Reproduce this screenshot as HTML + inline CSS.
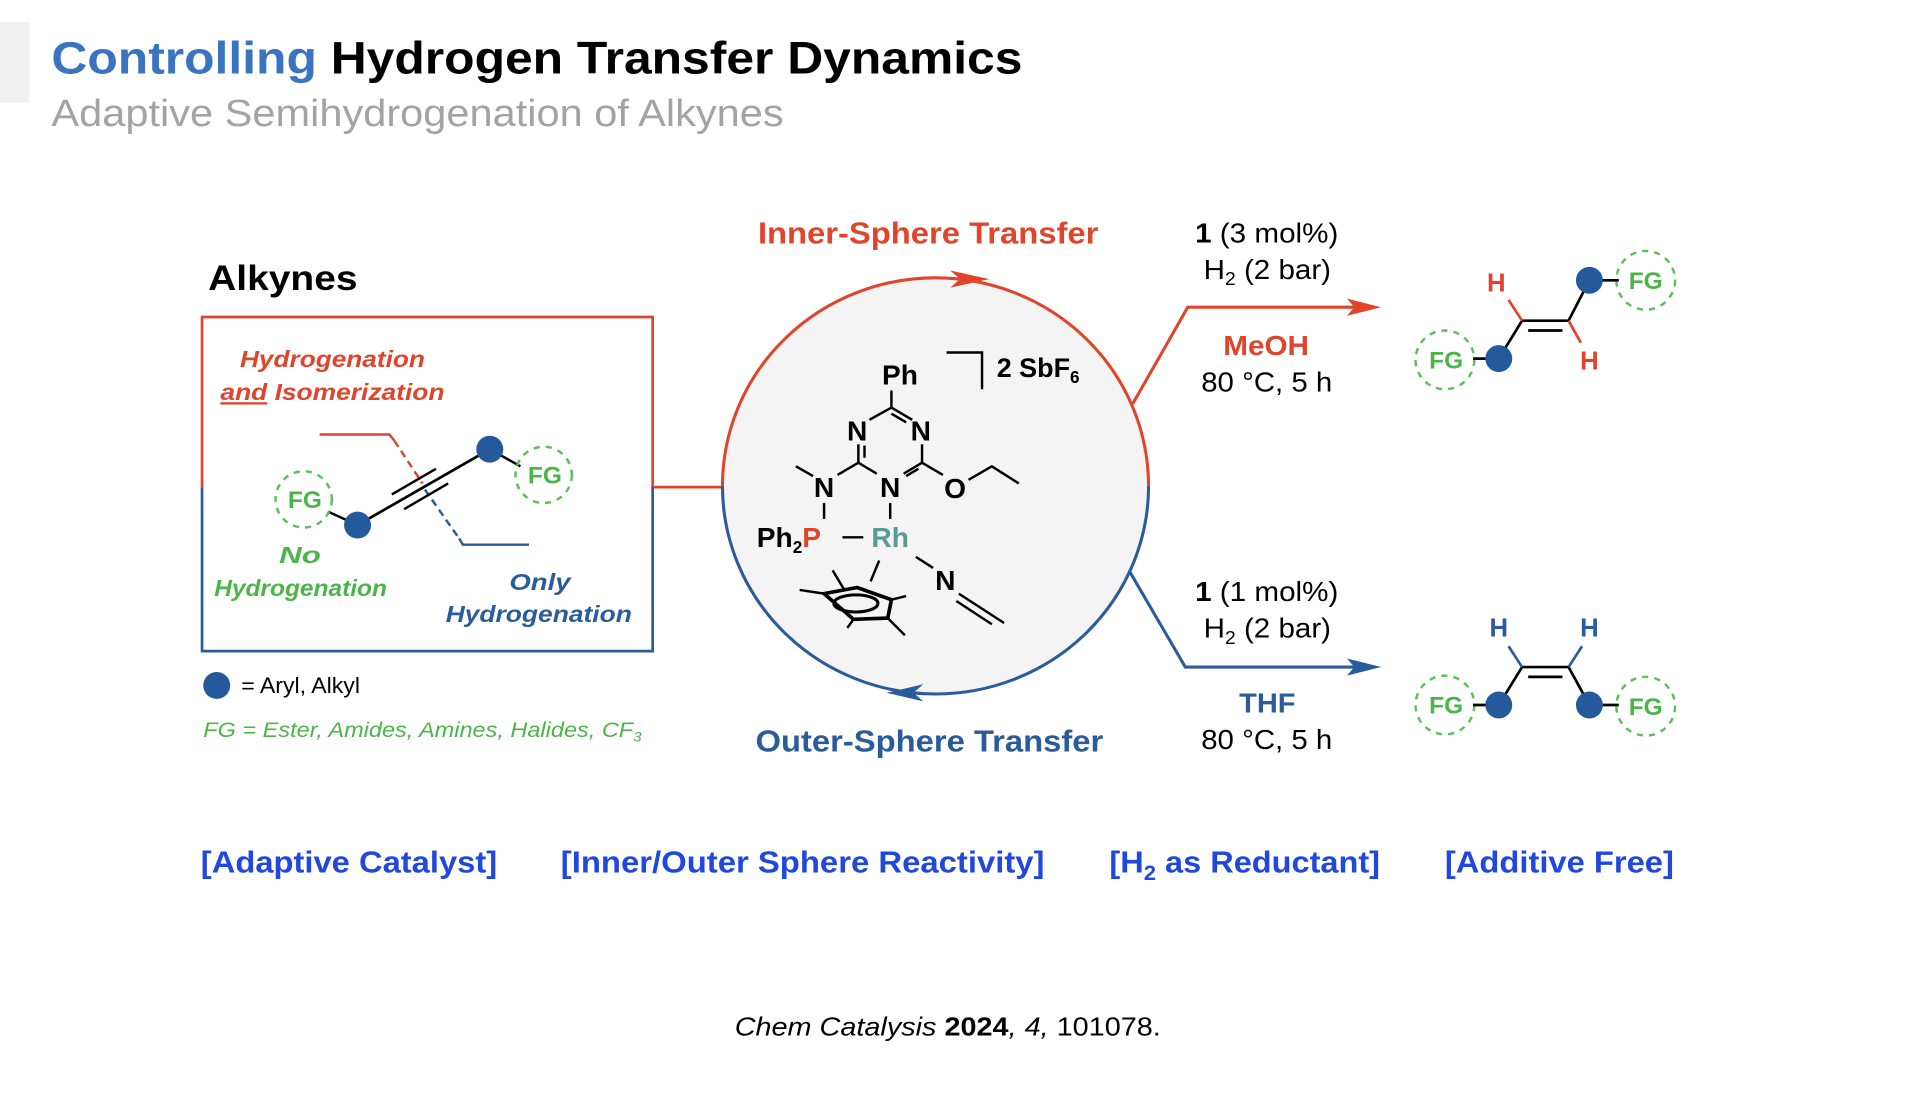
<!DOCTYPE html>
<html><head><meta charset="utf-8"><style>html,body{margin:0;padding:0;background:#fff;}svg{display:block;}text{font-family:"Liberation Sans",Arial,sans-serif;}</style></head>
<body>
<svg width="1920" height="1093" viewBox="0 0 1568 893" preserveAspectRatio="none" xmlns="http://www.w3.org/2000/svg">
<rect x="0" y="18" width="24" height="66" fill="#f0f0f0"/>
<text x="42" y="60" font-size="37" font-weight="bold" textLength="793" lengthAdjust="spacingAndGlyphs"><tspan fill="#3a73c0">Controlling</tspan><tspan fill="#000"> Hydrogen Transfer Dynamics</tspan></text>
<text x="42" y="103" font-size="31" fill="#a3a3a3" textLength="598" lengthAdjust="spacingAndGlyphs">Adaptive Semihydrogenation of Alkynes</text>

<text x="170" y="237" font-size="29" font-weight="bold" textLength="122" lengthAdjust="spacingAndGlyphs">Alkynes</text>
<path d="M165 398 V259 H533 V398 H592" fill="none" stroke="#e0442c" stroke-width="2.2"/>
<path d="M165 398 V532 H533 V398" fill="none" stroke="#2a5b9a" stroke-width="2.2"/>
<g font-weight="bold" font-style="italic" font-size="19">
<text x="196" y="300" fill="#e0442c" textLength="151" lengthAdjust="spacingAndGlyphs">Hydrogenation</text>
<text x="180" y="327" fill="#e0442c" textLength="183" lengthAdjust="spacingAndGlyphs"><tspan text-decoration="underline">and</tspan> Isomerization</text>
<text x="228" y="460" fill="#4bb54a" textLength="34" lengthAdjust="spacingAndGlyphs">No</text>
<text x="175" y="487" fill="#4bb54a" textLength="141" lengthAdjust="spacingAndGlyphs">Hydrogenation</text>
<text x="416" y="482" fill="#2a5b9a" textLength="50" lengthAdjust="spacingAndGlyphs">Only</text>
<text x="364" y="508" fill="#2a5b9a" textLength="152" lengthAdjust="spacingAndGlyphs">Hydrogenation</text>
</g>
<path d="M261 355 H318 L322 360" stroke="#e0442c" stroke-width="2" fill="none"/>
<path d="M322 360 L345 395" stroke="#e0442c" stroke-width="2" stroke-dasharray="6,4" fill="none"/>
<path d="M347 400 L375 440" stroke="#2a5b9a" stroke-width="2" stroke-dasharray="6,4" fill="none"/>
<path d="M375 440 L378 445 H432" stroke="#2a5b9a" stroke-width="2" fill="none"/>
<line x1="268" y1="418" x2="292" y2="429" stroke="#000" stroke-width="2"/>
<line x1="292" y1="429" x2="400" y2="367" stroke="#000" stroke-width="2.2"/>
<line x1="400" y1="367" x2="425" y2="381" stroke="#000" stroke-width="2"/>
<line x1="320" y1="404" x2="356" y2="383" stroke="#000" stroke-width="2"/>
<line x1="330" y1="416" x2="366" y2="395" stroke="#000" stroke-width="2"/>
<circle cx="292" cy="429" r="11" fill="#245a9c"/>
<circle cx="400" cy="367" r="11" fill="#245a9c"/>
<g fill="none" stroke="#5cbf58" stroke-width="2" stroke-dasharray="5,5">
<circle cx="248" cy="408" r="23"/><circle cx="444" cy="388" r="23"/>
<circle cx="1180" cy="294" r="24"/><circle cx="1344" cy="229" r="24"/>
<circle cx="1180" cy="576" r="24"/><circle cx="1344" cy="577" r="24"/>
</g>
<g fill="#4bb54a" font-weight="bold" font-size="20" text-anchor="middle">
<text x="249" y="415">FG</text><text x="445" y="395">FG</text>
<text x="1181" y="301">FG</text><text x="1344" y="236">FG</text>
<text x="1181" y="583">FG</text><text x="1344" y="584">FG</text>
</g>
<circle cx="177" cy="560" r="11" fill="#245a9c"/>
<text x="197" y="566" font-size="18" textLength="97" lengthAdjust="spacingAndGlyphs">= Aryl, Alkyl</text>
<text x="166" y="602" font-size="17" font-style="italic" fill="#4bb54a" textLength="358" lengthAdjust="spacingAndGlyphs">FG =  Ester, Amides, Amines, Halides, CF<tspan font-size="11" dy="4">3</tspan></text>

<ellipse cx="764" cy="397" rx="174" ry="170" fill="#f4f4f4"/>
<path d="M590 397 A174 170 0 0 1 938 397" fill="none" stroke="#e0442c" stroke-width="2.5"/>
<path d="M590 397 A174 170 0 0 0 938 397" fill="none" stroke="#2a5b9a" stroke-width="2.5"/>
<path d="M776 221 L808 228 L776 235 L784 228 Z" fill="#e0442c"/>
<path d="M754 559 L724 566 L754 573 L746 566 Z" fill="#2a5b9a"/>
<text x="619" y="199" font-size="25" font-weight="bold" fill="#e0442c" textLength="278" lengthAdjust="spacingAndGlyphs">Inner-Sphere Transfer</text>
<text x="617" y="614" font-size="25" font-weight="bold" fill="#2a5b9a" textLength="284" lengthAdjust="spacingAndGlyphs">Outer-Sphere Transfer</text>

<g font-weight="bold" font-size="23">
<text x="735" y="314" text-anchor="middle">Ph</text>
<text x="814" y="308" font-size="22">2 SbF<tspan font-size="14" dy="5">6</tspan></text>
<text x="700" y="360" text-anchor="middle">N</text>
<text x="752" y="360" text-anchor="middle">N</text>
<text x="673" y="406" text-anchor="middle">N</text>
<text x="727" y="406" text-anchor="middle">N</text>
<text x="780" y="407" text-anchor="middle">O</text>
<text x="618" y="447">Ph<tspan font-size="14" dy="5">2</tspan><tspan dy="-5" fill="#e0442c">P</tspan></text>
<text x="727" y="447" text-anchor="middle" fill="#5a9a95">Rh</text>
<text x="772" y="482" text-anchor="middle">N</text>
</g>
<g stroke="#000" stroke-width="2" fill="none">
<path d="M773 288 H802 V318"/>
<line x1="728" y1="319" x2="728" y2="333"/>
<line x1="728" y1="333" x2="710" y2="343"/><line x1="728" y1="333" x2="745" y2="343"/>
<line x1="728" y1="338" x2="740" y2="345"/>
<line x1="701" y1="363" x2="701" y2="378"/><line x1="706" y1="364" x2="706" y2="374"/>
<line x1="753" y1="363" x2="753" y2="378"/>
<line x1="701" y1="378" x2="684" y2="388"/><line x1="701" y1="378" x2="716" y2="387"/>
<line x1="753" y1="378" x2="738" y2="387"/><line x1="750" y1="383" x2="740" y2="389"/>
<line x1="753" y1="378" x2="770" y2="388"/>
<path d="M791 392 L810 381 L832 395"/>
<line x1="650" y1="381" x2="664" y2="389"/>
<line x1="673" y1="411" x2="673" y2="424"/>
<line x1="727" y1="411" x2="727" y2="424"/>
<line x1="688" y1="439" x2="705" y2="439"/>
<line x1="748" y1="455" x2="762" y2="464"/>
<line x1="783" y1="485" x2="820" y2="509"/><line x1="781" y1="491" x2="810" y2="510"/>
<line x1="718" y1="458" x2="711" y2="475"/>
<path d="M673 485 L700 480 L728 490 L725 505 L697 506 Z" stroke-width="3"/>
<ellipse cx="699" cy="493" rx="18" ry="7" stroke-width="2.5"/>
<line x1="653" y1="482" x2="673" y2="485"/><line x1="680" y1="466" x2="689" y2="481"/>
<line x1="728" y1="490" x2="740" y2="487"/><line x1="725" y1="505" x2="739" y2="519"/>
<line x1="697" y1="506" x2="692" y2="513"/>
</g>

<path d="M925 330 L970 251 H1110" fill="none" stroke="#e0442c" stroke-width="2.5"/>
<path d="M1100 244 L1128 251 L1100 258 L1106 251 Z" fill="#e0442c"/>
<path d="M922 466 L968 545 H1110" fill="none" stroke="#2a5b9a" stroke-width="2.5"/>
<path d="M1100 538 L1128 545 L1100 552 L1106 545 Z" fill="#2a5b9a"/>
<g font-size="23">
<text x="976" y="198" textLength="117" lengthAdjust="spacingAndGlyphs"><tspan font-weight="bold">1</tspan> (3 mol%)</text>
<text x="983" y="228" textLength="104" lengthAdjust="spacingAndGlyphs">H<tspan font-size="15" dy="5">2</tspan><tspan dy="-5"> (2 bar)</tspan></text>
<text x="999" y="290" font-weight="bold" fill="#e0442c" textLength="70" lengthAdjust="spacingAndGlyphs">MeOH</text>
<text x="981" y="320" textLength="107" lengthAdjust="spacingAndGlyphs">80 °C, 5 h</text>
<text x="976" y="491" textLength="117" lengthAdjust="spacingAndGlyphs"><tspan font-weight="bold">1</tspan> (1 mol%)</text>
<text x="983" y="521" textLength="104" lengthAdjust="spacingAndGlyphs">H<tspan font-size="15" dy="5">2</tspan><tspan dy="-5"> (2 bar)</tspan></text>
<text x="1012" y="582" font-weight="bold" fill="#2a5b9a" textLength="46" lengthAdjust="spacingAndGlyphs">THF</text>
<text x="981" y="612" textLength="107" lengthAdjust="spacingAndGlyphs">80 °C, 5 h</text>
</g>

<g stroke="#000" stroke-width="2.2" fill="none">
<path d="M1203 293 H1224 L1243 262 H1281 L1298 229 H1322"/>
<line x1="1248" y1="270" x2="1276" y2="270"/>
<path d="M1203 576 H1224 L1243 545 H1281 L1298 576 H1322"/>
<line x1="1248" y1="553" x2="1276" y2="553"/>
</g>
<g stroke="#e0442c" stroke-width="2.2"><line x1="1243" y1="262" x2="1232" y2="245"/><line x1="1281" y1="262" x2="1291" y2="280"/></g>
<g stroke="#2a5b9a" stroke-width="2.2"><line x1="1243" y1="545" x2="1232" y2="528"/><line x1="1281" y1="545" x2="1292" y2="528"/></g>
<circle cx="1224" cy="293" r="11" fill="#245a9c"/><circle cx="1298" cy="229" r="11" fill="#245a9c"/>
<circle cx="1224" cy="576" r="11" fill="#245a9c"/><circle cx="1298" cy="576" r="11" fill="#245a9c"/>
<g font-weight="bold" font-size="21" text-anchor="middle">
<text x="1222" y="238" fill="#e0442c">H</text><text x="1298" y="302" fill="#e0442c">H</text>
<text x="1224" y="520" fill="#2a5b9a">H</text><text x="1298" y="520" fill="#2a5b9a">H</text>
</g>

<g font-weight="bold" font-size="25" fill="#2047e0">
<text x="164" y="713" textLength="242" lengthAdjust="spacingAndGlyphs">[Adaptive Catalyst]</text>
<text x="458" y="713" textLength="395" lengthAdjust="spacingAndGlyphs">[Inner/Outer Sphere Reactivity]</text>
<text x="906" y="713" textLength="221" lengthAdjust="spacingAndGlyphs">[H<tspan font-size="17" dy="6">2</tspan><tspan dy="-6"> as Reductant]</tspan></text>
<text x="1180" y="713" textLength="187" lengthAdjust="spacingAndGlyphs">[Additive Free]</text>
</g>
<text x="600" y="846" font-size="21" textLength="348" lengthAdjust="spacingAndGlyphs"><tspan font-style="italic">Chem Catalysis</tspan> <tspan font-weight="bold">2024</tspan><tspan font-style="italic">, 4,</tspan> 101078.</text>
</svg>
</body></html>
